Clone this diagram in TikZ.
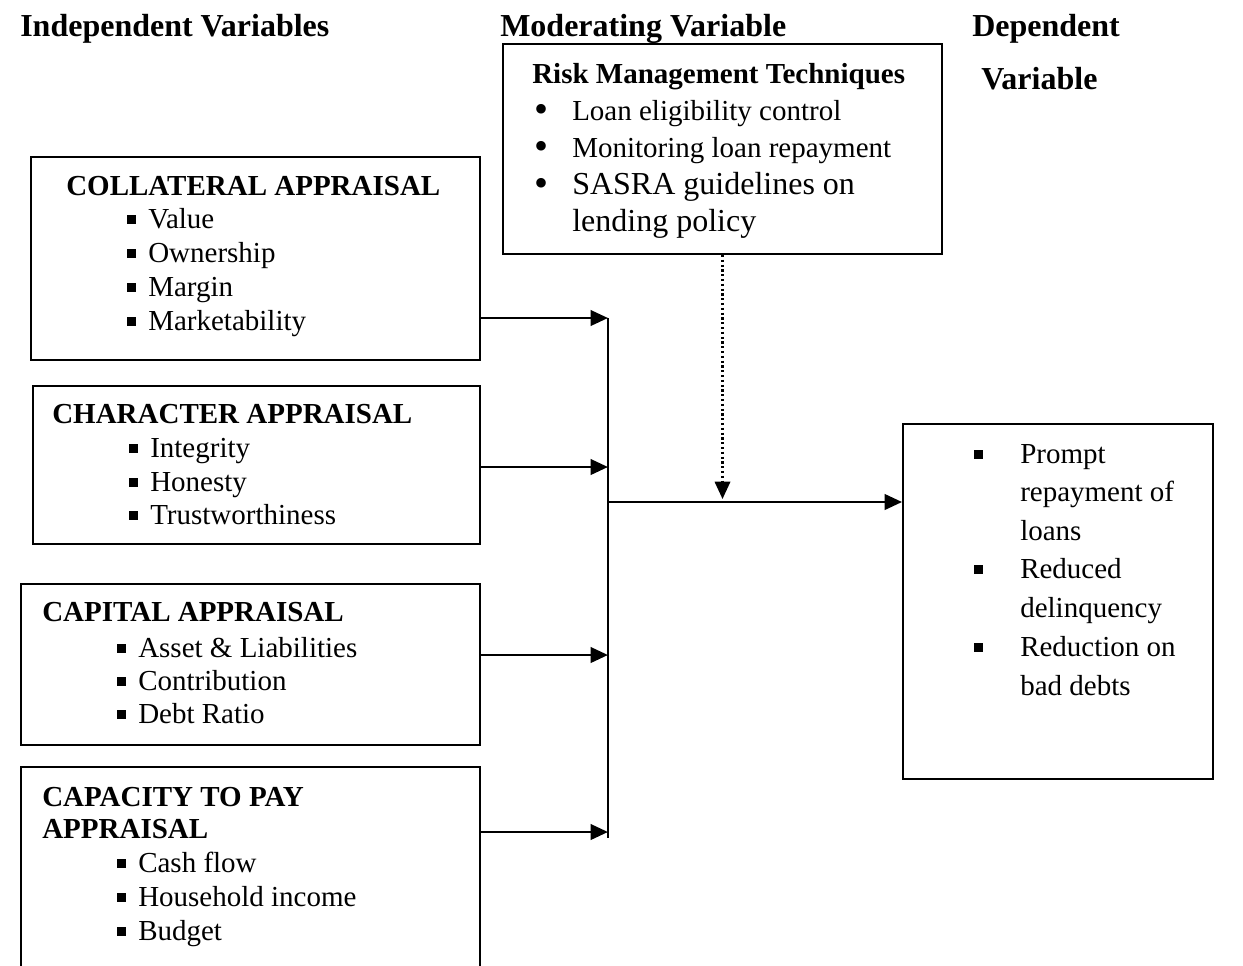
\documentclass[tikz,border=0pt]{standalone}
\usepackage{fontspec}
\setmainfont{Liberation Serif}
\usetikzlibrary{arrows.meta,fit}
\newcommand{\sqb}{\rule[0.15em]{0.3em}{0.3em}}
\newcommand{\rdb}{{\fontsize{30}{30}\selectfont\raisebox{-2.2pt}{\textbullet}}}
\tikzset{
 box/.style={draw, line width=1.4pt, inner sep=0pt},
 txt/.style={anchor=base west, inner sep=0pt, font=\fontsize{21.75}{26}\selectfont},
 ttl/.style={anchor=base west, inner sep=0pt, font=\fontsize{21.75}{26}\selectfont\bfseries},
 hdr/.style={anchor=base west, inner sep=0pt, font=\fontsize{24}{28}\selectfont\bfseries},
 bigtxt/.style={anchor=base west, inner sep=0pt, font=\fontsize{24}{28}\selectfont},
 conn/.style={line width=2.1pt, -{Triangle[length=13pt,width=11.5pt]}},
 plainline/.style={line width=2.1pt},
 dotconn/.style={line width=1.8pt, dash pattern=on 1.7pt off 1.9pt, -{Triangle[length=13pt,width=11.5pt]}}
}
\begin{document}
\begin{tikzpicture}[x=0.75pt,y=-0.75pt]
\useasboundingbox (0,0) rectangle (1243,965);
\fill[white] (0,0) rectangle (1243,965);
% headers
\node[hdr] (h1) at (20,36) {Independent Variables};
\node[hdr] (h2) at (500,36) {Moderating Variable};
\node[hdr] (h3) at (972,36) {Dependent};
\node[hdr] (h4) at (981,89) {Variable};
% boxes
\node[box, fit={(503,44) (942,254)}] (risk) {};
\node[box, fit={(31,157) (480,360)}] (coll) {};
\node[box, fit={(33,386) (480,544)}] (char) {};
\node[box, fit={(21,584) (480,745)}] (capi) {};
\node[box, fit={(21,767) (480,990)}] (capa) {};
\node[box, fit={(903,424) (1213,779)}] (dep) {};
% risk box text
\node[ttl] (rt) at (532,83) {Risk Management Techniques};
\node[txt] (rb1) at (534,120) {\rdb};
\node[txt] (r1) at (572,120) {Loan eligibility control};
\node[txt] (rb2) at (534,157) {\rdb};
\node[txt] (r2) at (572,157) {Monitoring loan repayment};
\node[txt] (rb3) at (534,194) {\rdb};
\node[bigtxt] (r3) at (572,194) {SASRA guidelines on};
\node[bigtxt] (r4) at (572,231) {lending policy};
% collateral
\node[ttl] (ct) at (66,195) {COLLATERAL APPRAISAL};
\node[txt] (cb1) at (127,228) {\sqb};
\node[txt] (c1) at (148,228) {Value};
\node[txt] (cb2) at (127,262) {\sqb};
\node[txt] (c2) at (148,262) {Ownership};
\node[txt] (cb3) at (127,296) {\sqb};
\node[txt] (c3) at (148,296) {Margin};
\node[txt] (cb4) at (127,330) {\sqb};
\node[txt] (c4) at (148,330) {Marketability};
% character
\node[ttl] (cht) at (52,423) {CHARACTER APPRAISAL};
\node[txt] (hb1) at (129,457) {\sqb};
\node[txt] (ch1) at (150,457) {Integrity};
\node[txt] (hb2) at (129,491) {\sqb};
\node[txt] (ch2) at (150,491) {Honesty};
\node[txt] (hb3) at (129,524) {\sqb};
\node[txt] (ch3) at (150,524) {Trustworthiness};
% capital
\node[ttl] (kt) at (42,621) {CAPITAL APPRAISAL};
\node[txt] (kb1) at (117,657) {\sqb};
\node[txt] (k1) at (138,657) {Asset \& Liabilities};
\node[txt] (kb2) at (117,690) {\sqb};
\node[txt] (k2) at (138,690) {Contribution};
\node[txt] (kb3) at (117,723) {\sqb};
\node[txt] (k3) at (138,723) {Debt Ratio};
% capacity
\node[ttl] (pt1) at (42,806) {CAPACITY TO PAY};
\node[ttl] (pt2) at (42,838) {APPRAISAL};
\node[txt] (pb1) at (117,872) {\sqb};
\node[txt] (p1) at (138,872) {Cash flow};
\node[txt] (pb2) at (117,906) {\sqb};
\node[txt] (p2) at (138,906) {Household income};
\node[txt] (pb3) at (117,940) {\sqb};
\node[txt] (p3) at (138,940) {Budget};
% dependent
\node[txt] (db1) at (974,463) {\sqb};
\node[txt] (d1) at (1020,463) {Prompt};
\node[txt] (d2) at (1020,501) {repayment of};
\node[txt] (d3) at (1020,540) {loans};
\node[txt] (db2) at (974,578) {\sqb};
\node[txt] (d4) at (1020,578) {Reduced};
\node[txt] (d5) at (1020,617) {delinquency};
\node[txt] (db3) at (974,656) {\sqb};
\node[txt] (d6) at (1020,656) {Reduction on};
\node[txt] (d7) at (1020,695) {bad debts};
% junctions
\coordinate (j1) at (608,318);
\coordinate (j2) at (608,467);
\coordinate (j3) at (608,655);
\coordinate (j4) at (608,832);
\coordinate (jend) at (608,838);
\coordinate (jm) at (608,502);
\coordinate (jd) at (722.5,499);
% connectors
\draw[plainline] (j1) -- (jend);
\draw[conn] (coll.east |- j1) -- (j1);
\draw[conn] (char.east |- j2) -- (j2);
\draw[conn] (capi.east |- j3) -- (j3);
\draw[conn] (capa.east |- j4) -- (j4);
\draw[conn] (jm) -- (dep.west |- jm);
\draw[dotconn] (risk.south) -- (risk.south |- jd);
\end{tikzpicture}
\end{document}
